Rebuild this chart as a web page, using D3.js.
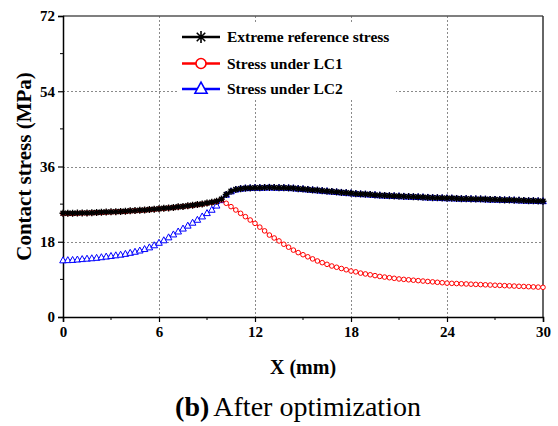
<!DOCTYPE html>
<html>
<head>
<meta charset="utf-8">
<script src="https://cdn.jsdelivr.net/npm/d3@7"></script>
<style>
  html, body { margin: 0; padding: 0; background: #fff; }
  svg text { font-family: "Liberation Serif", "DejaVu Serif", "Times New Roman", serif; }
</style>
</head>
<body>
<div id="chart"></div>
<script>
/* x positions (mm), 0.3 mm steps */
const xValues = [
  0, 0.3, 0.6, 0.9, 1.2, 1.5, 1.8, 2.1, 2.4, 2.7,
  3.0, 3.3, 3.6, 3.9, 4.2, 4.5, 4.8, 5.1, 5.4, 5.7,
  6.0, 6.3, 6.6, 6.9, 7.2, 7.5, 7.8, 8.1, 8.4, 8.7,
  9.0, 9.3, 9.6, 9.9, 10.2, 10.5, 10.8, 11.1, 11.4, 11.7,
  12.0, 12.3, 12.6, 12.9, 13.2, 13.5, 13.8, 14.1, 14.4, 14.7,
  15.0, 15.3, 15.6, 15.9, 16.2, 16.5, 16.8, 17.1, 17.4, 17.7,
  18.0, 18.3, 18.6, 18.9, 19.2, 19.5, 19.8, 20.1, 20.4, 20.7,
  21.0, 21.3, 21.6, 21.9, 22.2, 22.5, 22.8, 23.1, 23.4, 23.7,
  24.0, 24.3, 24.6, 24.9, 25.2, 25.5, 25.8, 26.1, 26.4, 26.7,
  27.0, 27.3, 27.6, 27.9, 28.2, 28.5, 28.8, 29.1, 29.4, 29.7,
  30.0
];

const extremeStress = [
  24.8, 24.8, 24.8, 24.85, 24.9, 24.9, 24.95, 25.0, 25.05, 25.1,
  25.15, 25.2, 25.25, 25.3, 25.4, 25.45, 25.55, 25.6, 25.7, 25.8,
  25.9, 26.0, 26.1, 26.2, 26.35, 26.45, 26.6, 26.75, 26.9, 27.05,
  27.25, 27.45, 27.7, 28.2, 29.3, 30.1, 30.5, 30.7, 30.8, 30.85,
  30.9, 30.9, 30.95, 31.0, 30.95, 30.9, 30.9, 30.85, 30.8, 30.7,
  30.6, 30.5, 30.4, 30.3, 30.2, 30.1, 30.0, 29.9, 29.8, 29.7,
  29.6, 29.5, 29.4, 29.35, 29.3, 29.2, 29.1, 29.05, 29.0, 28.95,
  28.9, 28.85, 28.8, 28.75, 28.7, 28.65, 28.6, 28.55, 28.5, 28.45,
  28.4, 28.4, 28.35, 28.3, 28.3, 28.25, 28.2, 28.2, 28.15, 28.1,
  28.1, 28.05, 28.0, 28.0, 27.95, 27.9, 27.85, 27.8, 27.8, 27.75,
  27.7
];

const stressLC1 = [
  24.75, 24.75, 24.75, 24.8, 24.85, 24.85, 24.9, 24.95, 25.0, 25.05,
  25.1, 25.15, 25.2, 25.25, 25.35, 25.4, 25.5, 25.55, 25.65, 25.75,
  25.85, 25.95, 26.05, 26.15, 26.3, 26.4, 26.55, 26.7, 26.85, 27.0,
  27.2, 27.4, 27.65, 28.0, 27.2, 26.4, 25.6, 24.8, 24.0, 23.2,
  22.4, 21.5, 20.6, 19.6, 18.9, 18.2, 17.4, 16.7, 16.0, 15.4,
  14.9, 14.4, 13.9, 13.4, 13.0, 12.6, 12.2, 11.9, 11.6, 11.3,
  11.0, 10.8, 10.5, 10.3, 10.1, 9.9, 9.7, 9.55, 9.4, 9.25,
  9.1, 9.0, 8.9, 8.8, 8.7, 8.6, 8.5, 8.4, 8.3, 8.2,
  8.1, 8.05, 8.0, 7.95, 7.9, 7.85, 7.8, 7.75, 7.7, 7.65,
  7.6, 7.55, 7.5, 7.45, 7.4, 7.35, 7.3, 7.25, 7.2, 7.15,
  7.1
];

const stressLC2 = [
  13.5, 13.55, 13.6, 13.7, 13.8, 13.9, 14.0, 14.1, 14.25, 14.4,
  14.55, 14.7, 14.85, 15.05, 15.3, 15.55, 15.85, 16.2, 16.6, 17.1,
  17.7, 18.3, 19.0, 19.7, 20.4, 21.1, 21.8, 22.5, 23.2, 24.0,
  24.8, 25.6, 26.6, 27.9, 29.2, 30.0, 30.45, 30.65, 30.75, 30.8,
  30.85, 30.85, 30.9, 30.95, 30.9, 30.85, 30.85, 30.8, 30.75, 30.65,
  30.55, 30.45, 30.35, 30.25, 30.15, 30.05, 29.95, 29.85, 29.75, 29.65,
  29.55, 29.45, 29.35, 29.3, 29.25, 29.15, 29.05, 29.0, 28.95, 28.9,
  28.85, 28.8, 28.75, 28.7, 28.65, 28.6, 28.55, 28.5, 28.45, 28.4,
  28.35, 28.35, 28.3, 28.25, 28.25, 28.2, 28.15, 28.15, 28.1, 28.05,
  28.05, 28.0, 27.95, 27.95, 27.9, 27.85, 27.8, 27.75, 27.75, 27.7,
  27.65
];

const xTicks = [0, 6, 12, 18, 24, 30];
const yTicks = [0, 18, 36, 54, 72];
const seriesNames = ["Extreme reference stress", "Stress under LC1", "Stress under LC2"];

const FONT = "'Liberation Serif', 'DejaVu Serif', serif";
const W = 558, H = 426;
const margin = {top: 16, right: 15, bottom: 109, left: 63};
const width = W - margin.left - margin.right;   // 480
const height = H - margin.top - margin.bottom;  // 301

const svg = d3.select("#chart").append("svg")
  .attr("width", W).attr("height", H)
  .style("font-family", FONT);

const x = d3.scaleLinear().domain([0, 30]).range([margin.left, margin.left + width]);
const y = d3.scaleLinear().domain([0, 72]).range([margin.top + height, margin.top]);

/* grid */
const grid = svg.append("g").attr("stroke", "#8a8a8a").attr("stroke-width", 1)
  .attr("stroke-dasharray", "2,2");
xTicks.slice(1, -1).forEach(t => {
  grid.append("line").attr("x1", Math.round(x(t)) + 0.5).attr("x2", Math.round(x(t)) + 0.5)
    .attr("y1", y(72)).attr("y2", y(0));
});
yTicks.slice(1, -1).forEach(t => {
  grid.append("line").attr("x1", x(0)).attr("x2", x(30))
    .attr("y1", Math.round(y(t)) + 0.5).attr("y2", Math.round(y(t)) + 0.5);
});

/* frame top / right */
svg.append("line").attr("x1", x(0)).attr("x2", x(30)).attr("y1", y(72)).attr("y2", y(72))
  .attr("stroke", "#555").attr("stroke-width", 1.5);
svg.append("line").attr("x1", x(30)).attr("x2", x(30)).attr("y1", y(72)).attr("y2", y(0))
  .attr("stroke", "#333").attr("stroke-width", 1.5);

/* axes */
const xAxis = svg.append("g").attr("transform", "translate(0," + y(0) + ")")
  .call(d3.axisBottom(x).tickValues(xTicks).tickSize(5).tickPadding(4).tickFormat(d3.format("d")));
const yAxis = svg.append("g").attr("transform", "translate(" + x(0) + ",0)")
  .call(d3.axisLeft(y).tickValues(yTicks).tickSize(5).tickPadding(3).tickFormat(d3.format("d")));
[xAxis, yAxis].forEach(a => {
  a.attr("font-family", FONT);
  a.select(".domain").attr("stroke", "#000").attr("stroke-width", 1.5);
  a.selectAll(".tick line").attr("stroke", "#000").attr("stroke-width", 1.2);
  a.selectAll(".tick text").attr("font-size", 15).attr("font-weight", "bold")
    .style("font-family", FONT).attr("fill", "#000");
});
/* minor ticks */
[3, 9, 15, 21, 27].forEach(t => {
  svg.append("line").attr("x1", x(t)).attr("x2", x(t)).attr("y1", y(0)).attr("y2", y(0) + 3)
    .attr("stroke", "#000").attr("stroke-width", 1);
});
[9, 27, 45, 63].forEach(t => {
  svg.append("line").attr("x1", x(0) - 3).attr("x2", x(0)).attr("y1", y(t)).attr("y2", y(t))
    .attr("stroke", "#000").attr("stroke-width", 1);
});

/* series */
const line = d3.line().x(d => x(d[0])).y(d => y(d[1]));
const dataLC2 = xValues.map((v, i) => [v, stressLC2[i]]);
const dataLC1 = xValues.map((v, i) => [v, stressLC1[i]]);
const dataExt = xValues.map((v, i) => [v, extremeStress[i]]);

const triPath = s => "M0," + (-s * 0.62) + "L" + (s * 0.55) + "," + (s * 0.38) + "L" + (-s * 0.55) + "," + (s * 0.38) + "Z";
const starPath = s => {
  const r = s / 2, d = r * 0.7071;
  return "M0," + (-r) + "V" + r + "M" + (-r) + ",0H" + r +
    "M" + (-d) + "," + (-d) + "L" + d + "," + d + "M" + (-d) + "," + d + "L" + d + "," + (-d);
};

const plot = svg.append("g");

// LC2 (blue triangles)
plot.append("path").datum(dataLC2).attr("d", line).attr("fill", "none")
  .attr("stroke", "#0000ff").attr("stroke-width", 1.5);
plot.selectAll(".tri").data(dataLC2).enter().append("path")
  .attr("transform", d => "translate(" + x(d[0]) + "," + y(d[1]) + ")")
  .attr("d", triPath(6)).attr("fill", "#fff").attr("stroke", "#0000ff").attr("stroke-width", 1);

// LC1 (red circles)
plot.append("path").datum(dataLC1).attr("d", line).attr("fill", "none")
  .attr("stroke", "#ff0000").attr("stroke-width", 1.2);
plot.selectAll(".circ").data(dataLC1).enter().append("circle")
  .attr("cx", d => x(d[0])).attr("cy", d => y(d[1])).attr("r", 2.3)
  .attr("fill", "#fff").attr("stroke", "#ff0000").attr("stroke-width", 1);

// Extreme (black stars)
plot.append("path").datum(dataExt).attr("d", line).attr("fill", "none")
  .attr("stroke", "#000").attr("stroke-width", 2);
plot.selectAll(".star").data(dataExt).enter().append("path")
  .attr("transform", d => "translate(" + x(d[0]) + "," + y(d[1]) + ")")
  .attr("d", starPath(7)).attr("fill", "none").attr("stroke", "#000").attr("stroke-width", 1.4);

/* legend */
const legend = svg.append("g");
legend.append("rect").attr("x", 177).attr("y", 24).attr("width", 219).attr("height", 75).attr("fill", "#fff");
const legColors = ["#000", "#ff0000", "#0000ff"];
const legY = [37, 63.5, 89];
seriesNames.forEach((name, i) => {
  const g = legend.append("g").attr("transform", "translate(0," + legY[i] + ")");
  g.append("line").attr("x1", 182).attr("x2", 220).attr("y1", 0).attr("y2", 0)
    .attr("stroke", legColors[i]).attr("stroke-width", 2.5);
  if (i === 0) {
    g.append("path").attr("transform", "translate(201,0)").attr("d", starPath(12))
      .attr("fill", "none").attr("stroke", "#000").attr("stroke-width", 1.6);
  } else if (i === 1) {
    g.append("circle").attr("cx", 201).attr("cy", 0).attr("r", 5)
      .attr("fill", "#fff").attr("stroke", "#ff0000").attr("stroke-width", 1.6);
  } else {
    g.append("path").attr("transform", "translate(201,0)").attr("d", triPath(11))
      .attr("fill", "#fff").attr("stroke", "#0000ff").attr("stroke-width", 1.6);
  }
  g.append("text").attr("x", 227).attr("y", 5).attr("font-size", 15.5).attr("font-weight", "bold")
    .style("font-family", FONT).attr("fill", "#000").text(name);
});

/* axis titles */
svg.append("text").attr("transform", "translate(31," + y(36) + ") rotate(-90)")
  .attr("text-anchor", "middle").attr("font-size", 21).attr("font-weight", "bold")
  .style("font-family", FONT).text("Contact stress (MPa)");
svg.append("text").attr("x", 303).attr("y", 374).attr("text-anchor", "middle")
  .attr("font-size", 20).attr("font-weight", "bold").style("font-family", FONT).text("X (mm)");

/* caption */
const cap = svg.append("text").attr("x", 298).attr("y", 416).attr("text-anchor", "middle")
  .attr("font-size", 28).style("font-family", FONT);
cap.append("tspan").attr("font-weight", "bold").text("(b)");
cap.append("tspan").attr("dx", 4).text("After optimization");
</script>
</body>
</html>
